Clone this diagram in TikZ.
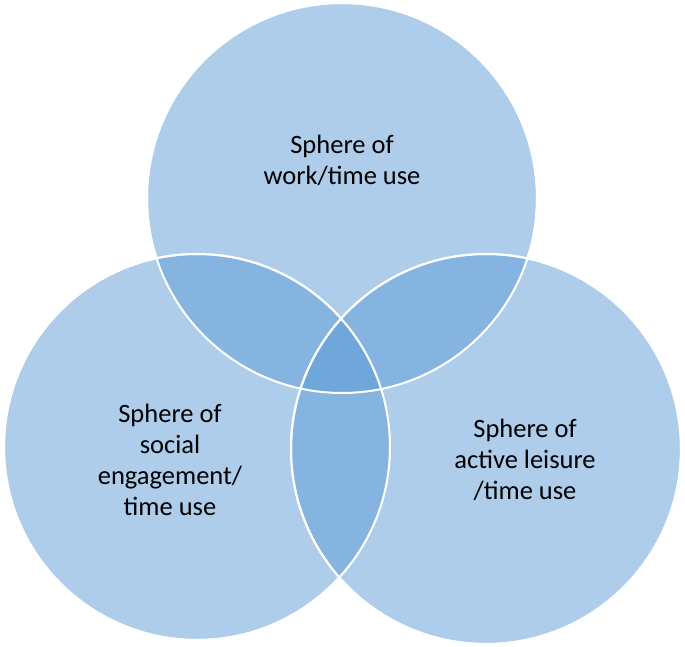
\documentclass[tikz,border=0pt]{standalone}
\usepackage{fontspec}
\setmainfont{Carlito}
\begin{document}
\begin{tikzpicture}[x=1pt,y=-1pt,
  circ/.style={fill={rgb,255:red,92;green,155;blue,213},fill opacity=0.5,draw=white,line width=2pt},
  lab/.style={align=center,font=\fontsize{26.5}{31}\selectfont,text=black}]
\useasboundingbox (0,0) rectangle (685,647);
\fill[circ] (342,198) circle (195);
\fill[circ] (197,447) circle (193);
\fill[circ] (486,449) circle (195);
\draw[white,line width=2pt] (342,198) circle (195) (197,447) circle (193) (486,449) circle (195);
\node[lab] (a) at (342,160) {Sphere of\\work/time use};
\node[lab] (b) at (170,460) {Sphere of\\social\\engagement/\\time use};
\node[lab] (c) at (525,460) {Sphere of\\active leisure\\/time use};
\end{tikzpicture}
\end{document}
